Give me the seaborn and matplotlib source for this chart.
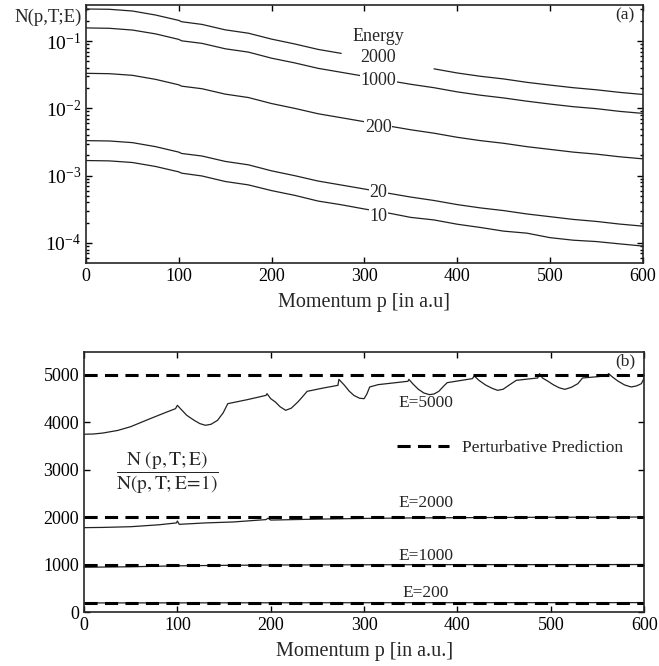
import matplotlib
matplotlib.use("Agg")
import matplotlib.pyplot as plt
import numpy as np
import pandas as pd
import seaborn as sns
from matplotlib.ticker import LogLocator, NullFormatter, LogFormatterMathtext

# ---- panel (a): N(p,T;E) vs momentum ----
p_a = [0, 25, 50, 75, 100, 103, 125, 150, 175, 200, 225, 250, 275, 300, 325,
       350, 375, 400, 425, 450, 475, 500, 525, 550, 575, 600]
n_2000 = [0.300, 0.297, 0.280, 0.244, 0.203, 0.194, 0.177, 0.147, 0.131, 0.107,
          0.0906, 0.0753, 0.0657, np.nan, np.nan, np.nan, 0.0387, 0.0336, 0.0300,
          0.0274, 0.0244, 0.0222, 0.0203, 0.0189, 0.0173, 0.0161]
n_1000 = [0.157, 0.155, 0.146, 0.128, 0.106, 0.101, 0.0925, 0.0769, 0.0686, 0.0557,
          0.0474, 0.0394, 0.0344, 0.0300, 0.0261, 0.0228, 0.0203, 0.0176, 0.0157,
          0.0143, 0.0128, 0.0116, 0.0106, 0.00991, 0.00903, 0.00843]
n_200 = [0.0332, 0.0328, 0.0310, 0.0270, 0.0224, 0.0214, 0.0196, 0.0163, 0.0145,
         0.0118, 0.0100, 0.00833, 0.00727, 0.00634, 0.00551, 0.00481, 0.00428,
         0.00372, 0.00332, 0.00303, 0.00270, 0.00246, 0.00224, 0.00209, 0.00191, 0.00178]
n_20 = [0.00332, 0.00328, 0.00310, 0.00270, 0.00224, 0.00214, 0.00196, 0.00163,
        0.00145, 0.00118, 0.00100, 0.000833, 0.000727, 0.000634, 0.000551, 0.000481,
        0.000428, 0.000372, 0.000332, 0.000303, 0.000270, 0.000246, 0.000224,
        0.000209, 0.000191, 0.000178]
n_10 = [0.00168, 0.00166, 0.00157, 0.00137, 0.00114, 0.00109, 0.00099, 0.00082,
        0.00073, 0.00060, 0.00051, 0.00042, 0.00037, 0.00032, 0.00028, 0.00024,
        0.00022, 0.00019, 0.00017, 0.00015, 0.00014, 0.00012, 0.00011, 0.000105,
        0.000097, 0.000090]
energies_a = ["2000", "1000", "200", "20", "10"]
label_pos_a = [0.058, 0.026, 0.0052, 0.00056, 0.00025]

# ---- panel (b): ratio N(p,T;E)/N(p,T;E=1) ----
p_5000 = [0, 10, 20, 36, 50, 71, 85, 98, 100, 104, 110, 118, 124, 130, 136, 143,
          149, 154, 175, 195, 196, 200, 205, 210, 216, 222, 229, 234, 239, 255,
          272, 273, 279, 284, 289, 295, 300, 303, 306, 315, 347, 348, 352, 358,
          364, 370, 375, 380, 385, 389, 416, 418, 423, 430, 437, 443, 449, 455,
          463, 486, 488, 491, 497, 503, 509, 515, 522, 529, 534, 559, 562, 566,
          572, 579, 586, 592, 597, 600]
r_5000 = [3750, 3755, 3775, 3830, 3910, 4080, 4190, 4290, 4360, 4275, 4150, 4043,
          3975, 3939, 3960, 4043, 4200, 4395, 4480, 4570, 4606, 4500, 4430, 4330,
          4255, 4300, 4430, 4540, 4655, 4720, 4782, 4908, 4782, 4660, 4570, 4510,
          4500, 4600, 4747, 4796, 4867, 4908, 4817, 4700, 4620, 4585, 4600, 4655,
          4760, 4838, 4923, 4979, 4887, 4790, 4720, 4676, 4700, 4782, 4887, 4937,
          5028, 4937, 4867, 4790, 4730, 4697, 4740, 4817, 4937, 4979, 5028, 4958,
          4870, 4790, 4747, 4770, 4817, 4937]
p_2000 = [0, 20, 50, 80, 99, 100, 102, 130, 160, 195, 197, 200, 250, 300, 350, 400,
          450, 500, 550, 600]
r_2000 = [1780, 1785, 1800, 1840, 1880, 1920, 1850, 1880, 1900, 1950, 1980, 1940,
          1960, 1975, 1985, 1990, 1995, 2000, 2000, 2005]
p_1000 = [0, 50, 100, 150, 200, 300, 400, 500, 600]
r_1000 = [945, 955, 975, 985, 992, 997, 1000, 1000, 1002]
p_200 = [0, 300, 600]
r_200 = [192, 197, 199]
perturbative = [5000, 2000, 1000, 200]
labels_b = ["E=5000", "E=2000", "E=1000", "E=200"]
label_y_b = [4410, 2300, 1180, 400]

sns.set_theme(style="ticks")
plt.rcParams["font.family"] = ["Liberation Serif", "DejaVu Serif"]
plt.rcParams["mathtext.fontset"] = "stix"
plt.rcParams["axes.unicode_minus"] = False
plt.rcParams["axes.linewidth"] = 1.2
for k in ("xtick", "ytick"):
    plt.rcParams[f"{k}.direction"] = "in"
    plt.rcParams[f"{k}.major.size"] = 4
    plt.rcParams[f"{k}.minor.size"] = 2.2
    plt.rcParams[f"{k}.major.width"] = 1.0
    plt.rcParams[f"{k}.labelsize"] = 13
    plt.rcParams[f"{k}.color"] = "black"

fig = plt.figure(figsize=(6.59, 6.66), dpi=100)
ax1 = fig.add_axes([0.1305, 0.605, 0.845, 0.3875])
ax2 = fig.add_axes([0.1275, 0.081, 0.850, 0.3905])

# panel (a)
long_a = []
for e, vals in zip(energies_a, [n_2000, n_1000, n_200, n_20, n_10]):
    d = pd.DataFrame({"p": p_a, "N": vals, "E": e})
    d["seg"] = d["N"].isna().cumsum()
    long_a.append(d.dropna())
long_a = pd.concat(long_a, ignore_index=True)
for (e, s), g in long_a.groupby(["E", "seg"]):
    sns.lineplot(data=g, x="p", y="N", color="#222222", lw=0.9, ax=ax1,
                 estimator=None, sort=False)
ax1.set_yscale("log")
ax1.set_xlim(0, 600)
ax1.set_ylim(5.03e-5, 0.344)
ax1.set_xticks(range(0, 601, 100))
ax1.yaxis.set_major_locator(LogLocator(base=10, numticks=10))
ax1.yaxis.set_major_formatter(LogFormatterMathtext())
ax1.yaxis.set_minor_locator(LogLocator(base=10, subs=np.arange(2, 10), numticks=20))
ax1.yaxis.set_minor_formatter(NullFormatter())
ax1.tick_params(which="both", top=True, right=True)
ax1.tick_params(axis="y", labelsize=14)
ax1.set_ylabel("")
ax1.set_xlabel("Momentum p [in a.u]", fontsize=14.5, labelpad=6)
ax1.text(315, 0.119, "Energy", fontsize=13, ha="center", va="center")
for lab, y in zip(energies_a, label_pos_a):
    ax1.text(315, y, lab, fontsize=13, ha="center", va="center",
             bbox=dict(facecolor="white", edgecolor="none", pad=0.5))
ax1.text(0.985, 0.99, "(a)", transform=ax1.transAxes, fontsize=12.5,
         ha="right", va="top")
fig.text(82 / 659, 1 - 17 / 666, "N(p,T;E)", fontsize=13.5, ha="right", va="center")

# panel (b)
curves_b = pd.concat([
    pd.DataFrame({"p": p_5000, "r": r_5000, "E": "5000"}),
    pd.DataFrame({"p": p_2000, "r": r_2000, "E": "2000"}),
    pd.DataFrame({"p": p_1000, "r": r_1000, "E": "1000"}),
    pd.DataFrame({"p": p_200, "r": r_200, "E": "200"}),
], ignore_index=True)
sns.lineplot(data=curves_b, x="p", y="r", units="E", estimator=None, sort=False,
             color="#222222", lw=0.9, ax=ax2)
handle = None
for v in perturbative:
    h = ax2.axhline(v, color="black", lw=2.2, ls=(0, (4.3, 2.4)))
    handle = handle or h
ax2.legend([handle], ["Perturbative Prediction"], frameon=False, fontsize=12.5,
           handlelength=3.0, loc="center left", bbox_to_anchor=(0.53, 0.63),
           handletextpad=0.8)
ax2.set_xlim(0, 600)
ax2.set_ylim(0, 5485)
ax2.set_xticks(range(0, 601, 100))
ax2.set_yticks(range(0, 5001, 1000))
ax2.tick_params(which="both", top=True, right=True)
ax2.set_ylabel("")
ax2.set_xlabel("Momentum p [in a.u.]", fontsize=14.5, labelpad=6)
for lab, y in zip(labels_b, label_y_b):
    ax2.text(366, y, lab, fontsize=12.5, ha="center", va="center")
ax2.text(0.148, 0.535,
         r"$\dfrac{\mathrm{N\ (p,T;E)}}{\mathrm{N(p,T;E\!=\!1)}}$",
         transform=ax2.transAxes, fontsize=14, ha="center", va="center")
ax2.text(0.985, 0.995, "(b)", transform=ax2.transAxes, fontsize=12.5,
         ha="right", va="top")

fig.savefig("out.png", dpi=100)
